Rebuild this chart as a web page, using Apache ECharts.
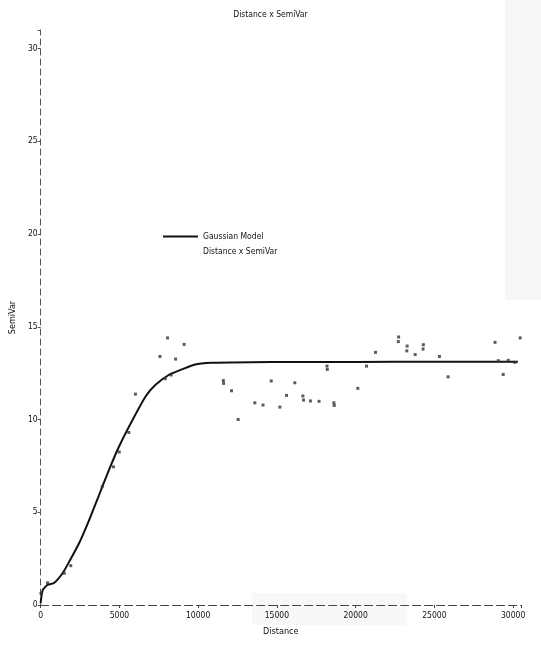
<!DOCTYPE html>
<html>
<head>
<meta charset="utf-8">
<title>Distance x SemiVar</title>
<script src="https://cdn.jsdelivr.net/npm/echarts@6/dist/echarts.min.js"></script>
<style>
  * { margin: 0; padding: 0; }
  html, body { background: #fff; }
  #main { width: 541px; height: 649px; }
</style>
</head>
<body>
<div id="main"></div>
<script>
  // Gaussian model curve
  var modelDist = [0, 130, 440, 870, 1390, 1810, 2440, 3080, 3710, 4340, 4970, 5600, 6650, 7280, 8130, 8970, 9810, 10860, 12120, 14650, 20000, 25000, 30300];
  var modelVal = [0.1, 0.8, 1.08, 1.2, 1.71, 2.33, 3.33, 4.58, 5.93, 7.28, 8.53, 9.6, 11.23, 11.86, 12.4, 12.7, 12.97, 13.06, 13.08, 13.1, 13.1, 13.12, 13.12];

  // experimental semivariogram points
  var pointDist = [20, 440, 1500, 1910, 3910, 4620, 4990, 5600, 6020, 7575, 7910, 8060, 8290, 8570, 9110,
    11600, 11620, 12120, 12540, 13600, 14120, 14640, 15190, 15610, 16140, 16650, 16690, 17130, 17680,
    18180, 18200, 18620, 18640, 20140, 20690, 21260, 22730, 22710, 23270, 23250, 23780, 24300, 24280,
    25320, 25870, 28850, 29060, 29370, 29690, 30110, 30450];
  var pointVal = [0.63, 1.2, 1.71, 2.12, 6.38, 7.45, 8.25, 9.3, 11.37, 13.4, 12.2, 14.4, 12.4, 13.26, 14.05,
    12.1, 11.95, 11.55, 10.0, 10.9, 10.78, 12.08, 10.67, 11.3, 11.98, 11.27, 11.05, 11.0, 10.98,
    12.88, 12.7, 10.9, 10.76, 11.68, 12.88, 13.62, 14.45, 14.2, 13.96, 13.7, 13.5, 14.03, 13.8,
    13.4, 12.3, 14.16, 13.17, 12.43, 13.19, 13.08, 14.4];

  var xTicks = [0, 5000, 10000, 15000, 20000, 25000, 30000];
  var yTicks = [0, 5, 10, 15, 20, 25, 30];

  var font = '"Liberation Sans Narrow", "DejaVu Sans Condensed", sans-serif';

  var modelData = modelDist.map(function (d, i) { return [d, modelVal[i]]; });
  var pointData = pointDist.map(function (d, i) { return [d, pointVal[i]]; });

  var chart = echarts.init(document.getElementById('main'));
  chart.setOption({
    backgroundColor: '#fff',
    animation: false,
    graphic: [
      { type: 'rect', z: -10, shape: { x: 505, y: 0, width: 36, height: 300 }, style: { fill: '#f6f6f6' } },
      { type: 'rect', z: -10, shape: { x: 252, y: 593, width: 155, height: 32 }, style: { fill: '#f8f8f8' } }
    ],
    title: {
      text: 'Distance x SemiVar',
      left: 'center',
      top: 5,
      textStyle: { fontFamily: font, fontSize: 8.5, fontWeight: 'normal', color: '#111' }
    },
    legend: {
      orient: 'vertical',
      left: 158,
      top: 227,
      itemWidth: 35,
      itemHeight: 2,
      itemGap: 6,
      textStyle: { fontFamily: font, fontSize: 8.5, color: '#111' },
      data: [
        { name: 'Gaussian Model', icon: 'rect', itemStyle: { color: '#111' } },
        { name: 'Distance x SemiVar', itemStyle: { opacity: 0 } }
      ]
    },
    grid: { left: 38, right: 20, top: 30, bottom: 44 },
    xAxis: {
      type: 'value',
      min: 0,
      max: 30500,
      interval: 5000,
      name: 'Distance',
      nameLocation: 'middle',
      nameGap: 22,
      nameTextStyle: { fontFamily: font, fontSize: 9, color: '#111' },
      splitLine: { show: false },
      axisLine: { lineStyle: { color: '#444', width: 1, type: [8, 4] } },
      axisTick: { length: 3, lineStyle: { color: '#444' } },
      axisLabel: {
        fontFamily: font, fontSize: 8.5, color: '#111', margin: 6,
        formatter: function (v) { return xTicks.indexOf(v) >= 0 ? String(v) : ''; }
      }
    },
    yAxis: {
      type: 'value',
      min: 0,
      max: 31,
      interval: 5,
      name: 'SemiVar',
      nameLocation: 'middle',
      nameGap: 18,
      nameTextStyle: { fontFamily: font, fontSize: 9, color: '#111' },
      splitLine: { show: false },
      axisLine: { show: true, lineStyle: { color: '#555', width: 1, type: [6, 4] } },
      axisTick: { length: 3, lineStyle: { color: '#555' } },
      axisLabel: {
        fontFamily: font, fontSize: 8.5, color: '#111', margin: 3,
        formatter: function (v) { return yTicks.indexOf(v) >= 0 ? String(v) : ''; }
      }
    },
    series: [
      {
        name: 'Gaussian Model',
        type: 'line',
        data: modelData,
        smooth: 0.2,
        symbol: 'none',
        lineStyle: { color: '#111', width: 2 },
        itemStyle: { color: '#111' },
        z: 3
      },
      {
        name: 'Distance x SemiVar',
        type: 'scatter',
        data: pointData,
        symbol: 'rect',
        symbolSize: 3,
        itemStyle: { color: '#333' },
        z: 4
      }
    ]
  });
</script>
</body>
</html>
